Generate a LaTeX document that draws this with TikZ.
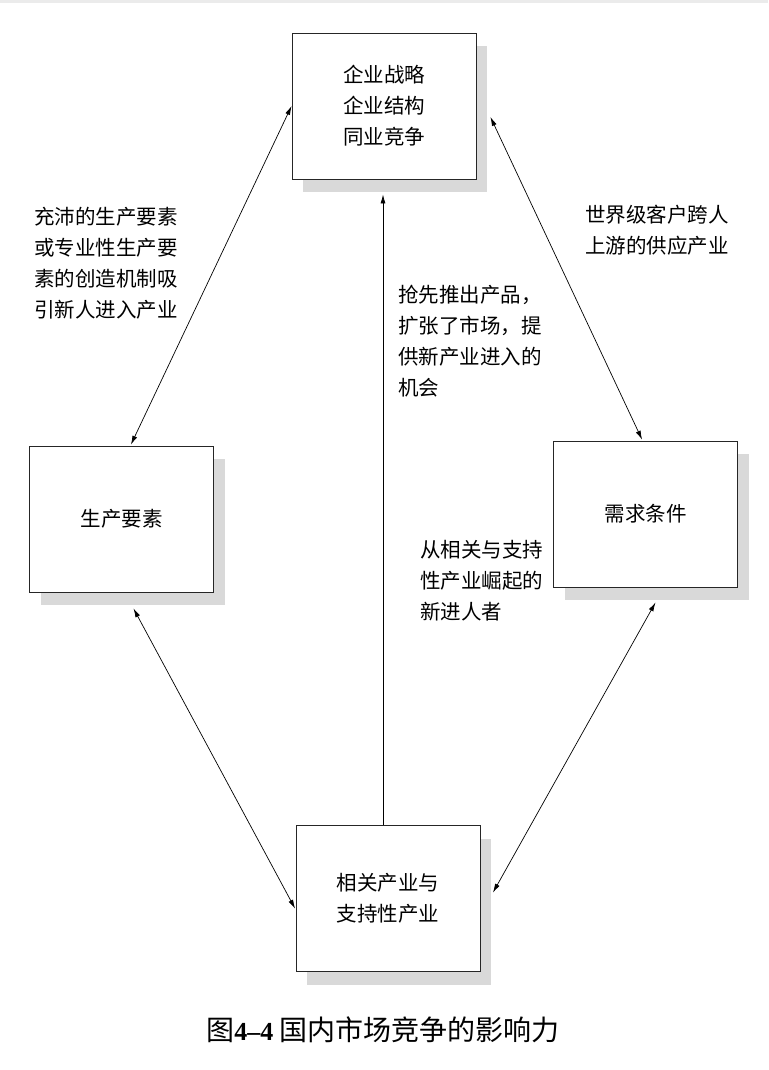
\documentclass[tikz,border=0pt]{standalone}
\usepackage{fontspec}
\setmainfont{Noto Sans CJK SC}
\newfontfamily\numfont{Liberation Serif}
\usetikzlibrary{arrows.meta,shadows}

\begin{document}
\begin{tikzpicture}[x=1pt,y=-1pt,>={Latex[length=9pt,width=5pt]},shorten >=1pt,line width=0.7pt,
    box/.style={draw=black!85,line width=0.9pt,fill=white,minimum width=184pt,minimum height=146pt,
      inner sep=0pt,align=center,font=\fontsize{20.5}{31}\selectfont,
      general shadow={fill=black!15,shadow xshift=11pt,shadow yshift=-13pt}},
    note/.style={anchor=north west,align=left,inner sep=0pt,font=\fontsize{20.5}{31}\selectfont}]
		\useasboundingbox (0,0) rectangle (768,1070);
		\fill[white] (0,0) rectangle (768,1070);
		\fill[black!8] (0,0) rectangle (768,3);

		\node[box]  (T)   at (384,106)      {企业战略\\企业结构\\同业竞争};
		\node[box]  (L)   at (121.5,519)    {生产要素};
		\node[box]  (R)   at (645.5,514)    {需求条件};
		\node[box]  (B)   at (388,898.5)    {相关产业与\\支持性产业};

		\node[note] (nL)  at (34,207)       {充沛的生产要素\\或专业性生产要\\素的创造机制吸\\引新人进入产业};
		\node[note] (nR)  at (585,205)      {世界级客户跨人\\上游的供应产业};
		\node[note] (nM)  at (398,285)      {抢先推出产品，\\扩张了市场，提\\供新产业进入的\\机会};
		\node[note] (nB)  at (420,540)      {从相关与支持\\性产业崛起的\\新进人者};

		\draw[<->] (T.west)                        -- ([xshift=9pt]L.north);
		\draw[<->] ([xshift=14pt,yshift=-11pt]T.east) -- ([xshift=-3pt]R.north);
		\draw[->]  ([xshift=-5pt]B.north)          -- ([xshift=-1pt,yshift=-14pt]T.south);
		\draw[<->] ([xshift=12pt,yshift=-16pt]L.south) -- ([yshift=-11pt]B.west);
		\draw[<->] ([xshift=10pt,yshift=-15pt]R.south) -- ([xshift=12pt,yshift=5pt]B.east);

		\node (C) at (383,1030) {\fontsize{28}{32}\selectfont 图{\numfont\bfseries\fontsize{26}{30}\selectfont 4–4} 国内市场竞争的影响力};
\end{tikzpicture}
\end{document}
